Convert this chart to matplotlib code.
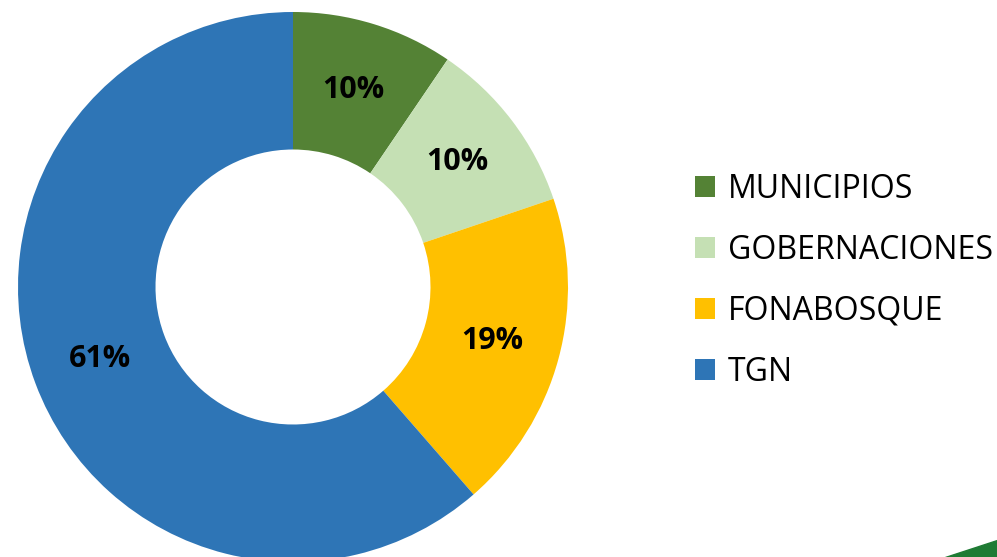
import matplotlib.pyplot as plt
import numpy as np
from matplotlib.patches import Polygon

labels = ['MUNICIPIOS', 'GOBERNACIONES', 'FONABOSQUE', 'TGN']
values = [9.5, 10.3, 18.8, 61.4]
pct_text = ['10%', '10%', '19%', '61%']
colors = ['#548235', '#C5E0B4', '#FFC000', '#2E75B6']

W, H = 997, 557
fig = plt.figure(figsize=(W / 100, H / 100), dpi=100)
plt.rcParams['font.family'] = ['Open Sans', 'DejaVu Sans']

# pie box: centre (293, 287) px, radius 275 px
cx, cy, r = 293, 287, 275
ax = fig.add_axes([(cx - r) / W, (H - cy - r) / H, 2 * r / W, 2 * r / H])
wedges, _ = ax.pie(values, colors=colors, startangle=90, counterclock=False,
                   radius=1, wedgeprops=dict(width=0.5, edgecolor='white', linewidth=0))
ax.set_xlim(-1, 1)
ax.set_ylim(-1, 1)
ax.set_aspect('equal')
ax.axis('off')

ang = 90.0
tot = sum(values)
for v, t in zip(values, pct_text):
    span = v / tot * 360
    mid = np.deg2rad(ang - span / 2)
    ax.text(0.75 * np.cos(mid), 0.75 * np.sin(mid), t, ha='center', va='center',
            fontsize=22, fontweight='bold', color='black')
    ang -= span

leg = fig.legend(wedges, labels, loc='upper left', bbox_to_anchor=(695 / W, 1 - 173 / H),
                 frameon=False, fontsize=23, handlelength=0.63, handleheight=0.63,
                 handletextpad=0.4, labelspacing=0.875, borderpad=0, borderaxespad=0)

# green slide decoration at bottom right
fig.patches.append(Polygon([(945 / W, 0), (1, 0), (1, 17 / H)], closed=True,
                           transform=fig.transFigure, color='#1E7B34'))

fig.savefig('out.png', dpi=100)
